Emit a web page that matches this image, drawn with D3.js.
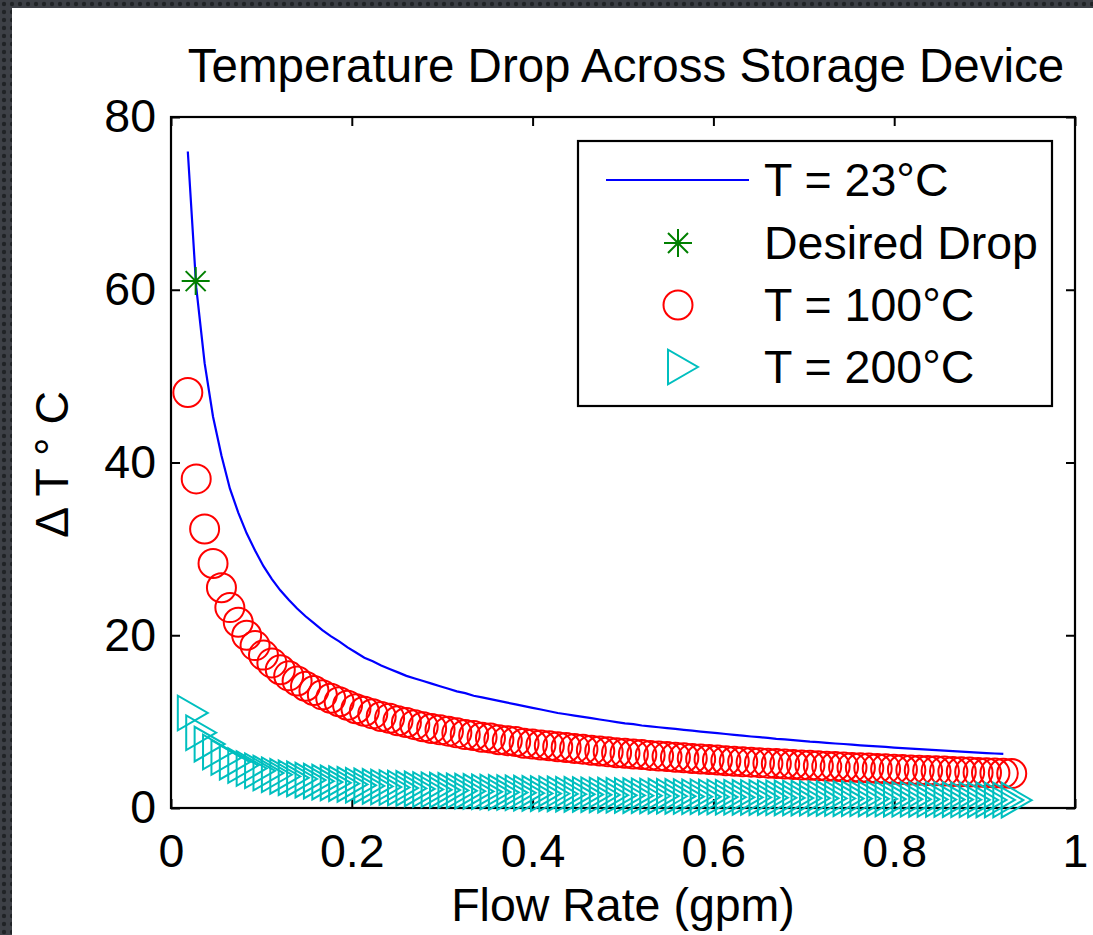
<!DOCTYPE html>
<html>
<head>
<meta charset="utf-8">
<script src="https://cdn.jsdelivr.net/npm/d3@7"></script>
<style>
  html, body { margin: 0; padding: 0; background: #34373c; }
  svg { display: block; }
  text { font-family: "Liberation Sans", Arial, sans-serif; fill: #000; }
</style>
</head>
<body>
<svg id="chart" width="1093" height="935"></svg>
<script>
// ---------------- data ----------------
const flowRate = [0.0186,0.0279,0.0372,0.0465,0.0558,0.0651,0.0744,0.0837,0.093,0.1023,
  0.1116,0.1209,0.1302,0.1395,0.1488,0.1581,0.1674,0.1767,0.186,0.1953,
  0.2046,0.2139,0.2232,0.2325,0.2418,0.2511,0.2604,0.2697,0.279,0.2883,
  0.2976,0.3069,0.3162,0.3255,0.3348,0.3441,0.3534,0.3627,0.372,0.3813,
  0.3906,0.3999,0.4092,0.4185,0.4278,0.4371,0.4464,0.4557,0.465,0.4743,
  0.4836,0.4929,0.5022,0.5115,0.5208,0.5301,0.5394,0.5487,0.558,0.5673,
  0.5766,0.5859,0.5952,0.6045,0.6138,0.6231,0.6324,0.6417,0.651,0.6603,
  0.6696,0.6789,0.6882,0.6975,0.7068,0.7161,0.7254,0.7347,0.744,0.7533,
  0.7626,0.7719,0.7812,0.7905,0.7998,0.8091,0.8184,0.8277,0.837,0.8463,
  0.8556,0.8649,0.8742,0.8835,0.8928,0.9021,0.9114,0.9207,0.93];

// T = 23 °C (solid blue line)
const drop23 = [76.0,60.3,51.5,45.3,40.8,37.0,34.2,31.8,29.8,28.0,
  26.5,25.2,24.1,23.1,22.2,21.4,20.6,19.9,19.3,18.6,
  18.0,17.4,17.0,16.5,16.1,15.7,15.3,15.0,14.7,14.4,
  14.1,13.8,13.5,13.3,13.0,12.8,12.6,12.4,12.2,12.0,
  11.8,11.6,11.4,11.2,11.0,10.85,10.7,10.55,10.4,10.25,
  10.1,9.95,9.8,9.7,9.55,9.45,9.35,9.25,9.15,9.05,
  8.95,8.85,8.75,8.66,8.57,8.46,8.37,8.28,8.20,8.11,
  8.01,7.94,7.86,7.78,7.69,7.63,7.55,7.47,7.41,7.33,
  7.26,7.20,7.13,7.07,6.99,6.93,6.87,6.81,6.75,6.70,
  6.64,6.59,6.53,6.48,6.42,6.36,6.31,6.27];

// T = 100 °C (red circles)
const drop100 = [48.1,38.1,32.3,28.3,25.5,23.2,21.5,20.0,18.8,17.7,
  16.8,16.0,15.3,14.7,14.1,13.6,13.1,12.7,12.3,11.9,
  11.5,11.2,10.9,10.6,10.4,10.1,9.9,9.65,9.4,9.2,
  9.05,8.9,8.7,8.5,8.4,8.2,8.1,7.9,7.8,7.7,
  7.5,7.4,7.3,7.2,7.1,7.0,6.9,6.8,6.7,6.6,
  6.5,6.4,6.34,6.25,6.18,6.09,6.02,5.95,5.88,5.81,
  5.74,5.67,5.61,5.55,5.48,5.42,5.36,5.31,5.25,5.19,
  5.14,5.09,5.04,4.98,4.94,4.89,4.84,4.80,4.75,4.70,
  4.66,4.62,4.58,4.53,4.49,4.45,4.41,4.37,4.34,4.30,
  4.27,4.23,4.20,4.16,4.12,4.09,4.06,4.02,3.99];

// T = 200 °C (cyan triangles)
const drop200 = [11.0,8.72,7.40,6.48,5.84,5.31,4.92,4.58,4.31,4.05,
  3.85,3.66,3.50,3.37,3.23,3.11,3.00,2.91,2.82,2.73,
  2.63,2.56,2.50,2.43,2.38,2.31,2.27,2.21,2.15,2.11,
  2.07,2.04,1.99,1.95,1.92,1.88,1.85,1.81,1.79,1.76,
  1.72,1.69,1.67,1.65,1.63,1.60,1.58,1.56,1.53,1.51,
  1.49,1.47,1.45,1.43,1.42,1.39,1.38,1.36,1.35,1.33,
  1.31,1.30,1.28,1.27,1.25,1.24,1.23,1.22,1.20,1.19,
  1.18,1.17,1.15,1.14,1.13,1.12,1.11,1.10,1.09,1.08,
  1.07,1.06,1.05,1.04,1.03,1.02,1.01,1.00,0.99,0.98,
  0.98,0.97,0.96,0.95,0.94,0.94,0.93,0.92,0.91];

// Desired drop (green asterisk)
const desiredFlow = [0.0273];
const desiredDrop = [61.0];

const xTickValues = [0, 0.2, 0.4, 0.6, 0.8, 1];
const yTickValues = [0, 20, 40, 60, 80];
const xTickLabels = ["0", "0.2", "0.4", "0.6", "0.8", "1"];
const yTickLabels = ["0", "20", "40", "60", "80"];

const legendLabels = ["T = 23°C", "Desired Drop", "T = 100°C", "T = 200°C"];
const titleText = "Temperature Drop Across Storage Device";
const xLabelText = "Flow Rate (gpm)";

// ---------------- drawing ----------------
const W = 1093, H = 935;
const svg = d3.select("#chart");

// dark textured frame
const defs = svg.append("defs");
const pat = defs.append("pattern").attr("id", "dots")
  .attr("width", 8).attr("height", 8).attr("patternUnits", "userSpaceOnUse");
pat.append("rect").attr("width", 8).attr("height", 8).attr("fill", "#3d4046");
pat.append("circle").attr("cx", 4).attr("cy", 4).attr("r", 2.2).attr("fill", "#202326");
svg.append("rect").attr("width", W).attr("height", H).attr("fill", "url(#dots)");
svg.append("rect").attr("x", 12).attr("y", 8).attr("width", W - 12).attr("height", H - 8).attr("fill", "#fff");

const plot = { left: 171, right: 1075, top: 117, bottom: 808 };
const x = d3.scaleLinear().domain([0, 1]).range([plot.left, plot.right]);
const y = d3.scaleLinear().domain([0, 80]).range([plot.bottom, plot.top]);

const FS = 46.5;
const tickLen = 9;

// axes box
const g = svg.append("g");
g.append("rect")
  .attr("x", plot.left).attr("y", plot.top)
  .attr("width", plot.right - plot.left).attr("height", plot.bottom - plot.top)
  .attr("fill", "none").attr("stroke", "#000").attr("stroke-width", 2.2);

// ticks (inward, all four sides) via d3 axes
const xAxisB = d3.axisBottom(x).tickValues(xTickValues).tickSizeInner(-tickLen).tickSizeOuter(0).tickFormat((d, i) => xTickLabels[i]).tickPadding(26);
const xAxisT = d3.axisTop(x).tickValues(xTickValues).tickSizeInner(-tickLen).tickSizeOuter(0).tickFormat("");
const yAxisL = d3.axisLeft(y).tickValues(yTickValues).tickSizeInner(-tickLen).tickSizeOuter(0).tickFormat((d, i) => yTickLabels[i]).tickPadding(15);
const yAxisR = d3.axisRight(y).tickValues(yTickValues).tickSizeInner(-tickLen).tickSizeOuter(0).tickFormat("");

function styleAxis(sel) {
  sel.select(".domain").remove();
  sel.selectAll(".tick line").attr("stroke", "#000").attr("stroke-width", 2);
  sel.selectAll(".tick text").attr("font-size", FS).attr("fill", "#000")
    .attr("font-family", "'Liberation Sans', Arial, sans-serif");
}
g.append("g").attr("transform", `translate(0,${plot.bottom})`).call(xAxisB).call(styleAxis);
g.append("g").attr("transform", `translate(0,${plot.top})`).call(xAxisT).call(styleAxis);
g.append("g").attr("transform", `translate(${plot.left},0)`).call(yAxisL).call(styleAxis);
g.append("g").attr("transform", `translate(${plot.right},0)`).call(yAxisR).call(styleAxis);

// title and axis labels
svg.append("text").attr("x", 626).attr("y", 82)
  .attr("text-anchor", "middle").attr("font-size", 47.5).text(titleText);
svg.append("text").attr("x", (plot.left + plot.right) / 2).attr("y", 921)
  .attr("text-anchor", "middle").attr("font-size", FS).text(xLabelText);
const yl = svg.append("text")
  .attr("transform", `translate(68,${(plot.top + plot.bottom) / 2 + 2}) rotate(-90)`)
  .attr("text-anchor", "middle").attr("font-size", FS);
yl.append("tspan").text("Δ T ");
yl.append("tspan").text("°");
yl.append("tspan").text(" C");

// markers
const colors = { blue: "#0000ff", green: "#008000", red: "#ff0000", cyan: "#00bfbf" };
const triPath = "M20,0 L-10,17.32 L-10,-17.32 Z";
const starPath = "M-14,0 L14,0 M0,-14 L0,14 M-10,-10 L10,10 M-10,10 L10,-10";

// T = 23 line
const line = d3.line().x((d, i) => x(flowRate[i])).y(d => y(d));
svg.append("path").datum(drop23).attr("d", line)
  .attr("fill", "none").attr("stroke", colors.blue).attr("stroke-width", 2.2);

// desired drop star
svg.append("g").selectAll("path").data(desiredDrop).join("path")
  .attr("transform", (d, i) => `translate(${x(desiredFlow[i])},${y(d)})`)
  .attr("d", starPath).attr("stroke", colors.green).attr("stroke-width", 2).attr("fill", "none");

// T = 100 circles
svg.append("g").selectAll("circle").data(drop100).join("circle")
  .attr("cx", (d, i) => x(flowRate[i])).attr("cy", d => y(d)).attr("r", 14.5)
  .attr("fill", "none").attr("stroke", colors.red).attr("stroke-width", 2);

// T = 200 triangles
svg.append("g").selectAll("path").data(drop200).join("path")
  .attr("transform", (d, i) => `translate(${x(flowRate[i])},${y(d)})`)
  .attr("d", triPath).attr("fill", "none").attr("stroke", colors.cyan).attr("stroke-width", 2);

// legend
const lg = svg.append("g");
const lb = { x: 578, y: 141, w: 474, h: 265 };
lg.append("rect").attr("x", lb.x).attr("y", lb.y).attr("width", lb.w).attr("height", lb.h)
  .attr("fill", "#fff").attr("stroke", "#000").attr("stroke-width", 2.2);
const rowY = [180, 243, 305, 367];
const symX = 678;
lg.append("line").attr("x1", 606).attr("x2", 749).attr("y1", rowY[0]).attr("y2", rowY[0])
  .attr("stroke", colors.blue).attr("stroke-width", 2.2);
lg.append("path").attr("transform", `translate(${symX},${rowY[1]})`).attr("d", starPath)
  .attr("stroke", colors.green).attr("stroke-width", 2).attr("fill", "none");
lg.append("circle").attr("cx", symX).attr("cy", rowY[2]).attr("r", 14.5)
  .attr("fill", "none").attr("stroke", colors.red).attr("stroke-width", 2);
lg.append("path").attr("transform", `translate(${symX},${rowY[3]})`).attr("d", triPath)
  .attr("fill", "none").attr("stroke", colors.cyan).attr("stroke-width", 2);
lg.selectAll("text.lab").data(legendLabels).join("text").attr("class", "lab")
  .attr("x", 764).attr("y", (d, i) => rowY[i] + 16).attr("font-size", FS).text(d => d);
</script>
</body>
</html>
